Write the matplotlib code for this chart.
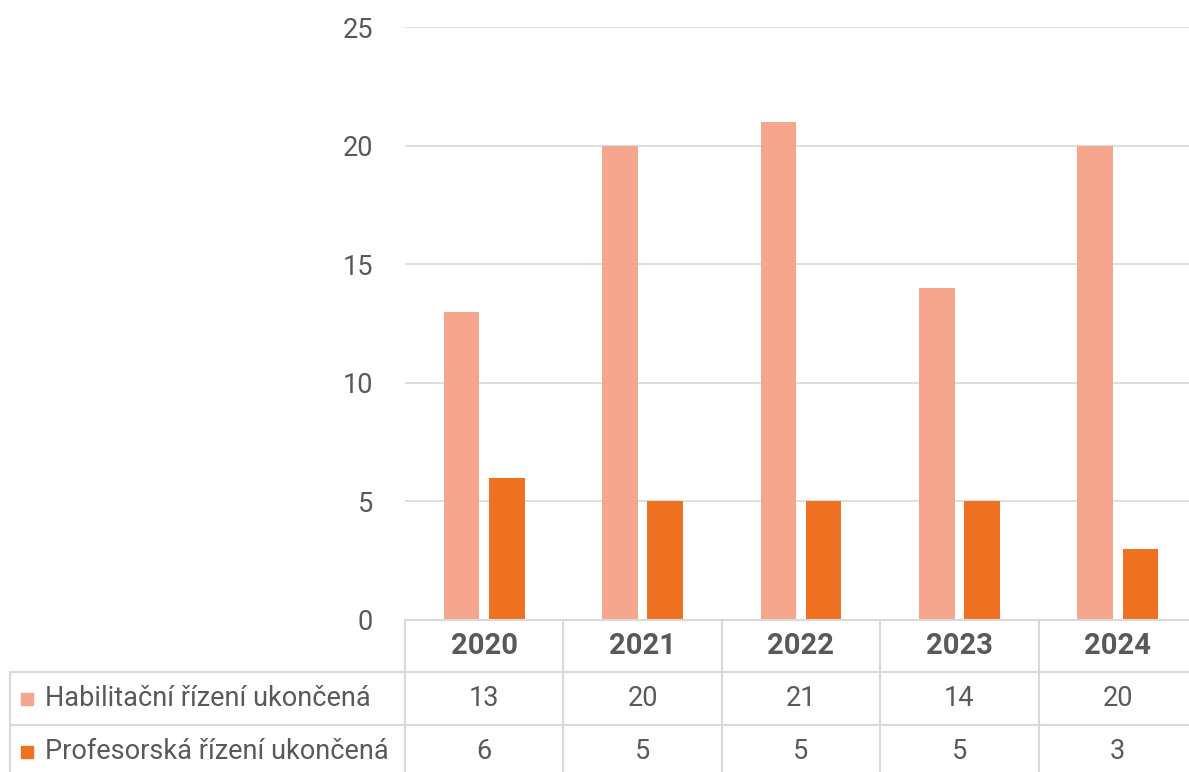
import matplotlib
matplotlib.use("Agg")
import matplotlib.pyplot as plt
from matplotlib import transforms
import numpy as np

years = ["2020", "2021", "2022", "2023", "2024"]
habilitacni = [13, 20, 21, 14, 20]
profesorska = [6, 5, 5, 5, 3]
series_names = ["Habilitační řízení ukončená", "Profesorská řízení ukončená"]
colors = ["#F5A68D", "#EF7122"]
yticks = [0, 5, 10, 15, 20, 25]

plt.rcParams['font.family'] = ['Roboto', 'DejaVu Sans']
TXT = "#595959"
GRID = "#D9D9D9"
FS = 19.5

W, H = 1189, 772
fig = plt.figure(figsize=(W / 100, H / 100), dpi=100)

def fx(px):
    return px / W

def fy(py):
    return 1 - py / H

ax_left, ax_right, ax_top, ax_bot = 405, 1197, 27, 620
ax = fig.add_axes([fx(ax_left), fy(ax_bot), fx(ax_right - ax_left), fy(ax_top) - fy(ax_bot)])

x = np.arange(len(years))
bw = 0.225
off = 0.143
ax.bar(x - off, habilitacni, bw, color=colors[0], zorder=3)
ax.bar(x + off, profesorska, bw, color=colors[1], zorder=3)

ax.set_xlim(-0.5, len(years) - 0.5)
ax.set_ylim(0, 25)
ax.set_yticks(yticks)
ax.set_yticklabels([str(t) for t in yticks])
ax.yaxis.grid(True, color=GRID, linewidth=1.2, zorder=0)
ax.tick_params(axis='y', length=0, pad=23, labelsize=FS, labelcolor=TXT)
ax.tick_params(axis='x', length=0, labelbottom=False)
for s in ax.spines.values():
    s.set_visible(False)

# Data table
trans = transforms.blended_transform_factory(ax.transData, fig.transFigure)
row_y = [620, 672, 725, 790]
px_per_unit = (ax_right - ax_left) / len(years)
left_edge = -0.5 - (ax_left - 10) / px_per_unit
right_edge = len(years) - 0.5

lkw = dict(color=GRID, linewidth=1.5, transform=trans, clip_on=False)
fig.add_artist(plt.Line2D([-0.5, right_edge], [fy(row_y[0])] * 2, **lkw))
for ry in row_y[1:3]:
    fig.add_artist(plt.Line2D([left_edge, right_edge], [fy(ry)] * 2, **lkw))
for i in range(len(years) + 1):
    xb = i - 0.5
    fig.add_artist(plt.Line2D([xb, xb], [fy(row_y[0]), fy(row_y[3])], **lkw))
fig.add_artist(plt.Line2D([left_edge, left_edge], [fy(row_y[1]), fy(row_y[3])], **lkw))

# header
for i, yr in enumerate(years):
    fig.text(i, fy((row_y[0] + row_y[1]) / 2), yr, transform=trans, ha='center', va='center',
             fontsize=21, fontweight='bold', color=TXT)

rows = [habilitacni, profesorska]
for r, (vals, name, col) in enumerate(zip(rows, series_names, colors)):
    yc = fy((row_y[r + 1] + row_y[r + 1] + 53) / 2)
    for i, v in enumerate(vals):
        fig.text(i, yc, str(v), transform=trans, ha='center', va='center',
                 fontsize=FS, color=TXT)
    fig.text(fx(45), yc, name, ha='left', va='center', fontsize=FS, color=TXT)
    fig.patches.append(plt.Rectangle((fx(21), yc - 6 / H), 12 / W, 12 / H,
                                     transform=fig.transFigure, color=col, figure=fig))

fig.savefig("out.png", dpi=100)
